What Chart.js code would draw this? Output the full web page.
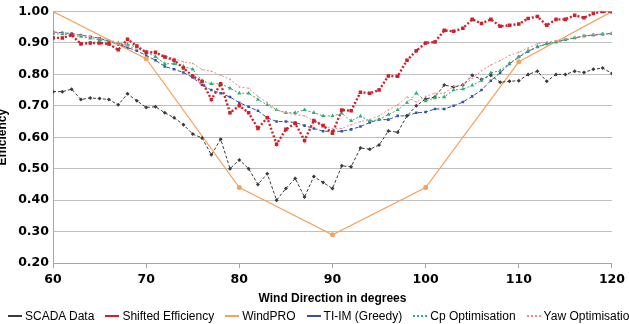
<!DOCTYPE html>
<html>
<head>
<meta charset="utf-8">
<script src="https://cdn.jsdelivr.net/npm/chart.js@4.4.0/dist/chart.umd.min.js"></script>
<style>
  html, body { margin: 0; padding: 0; background: #fff; overflow: hidden; width: 629px; height: 324px; }
  #wrap { position: absolute; left: -5px; top: 0; width: 634px; height: 324px; }
  #legend { position: absolute; left: 8px; top: 309px; white-space: nowrap; font-family: "Liberation Sans", Arial, sans-serif; font-size: 12px; color: #000; display: flex; align-items: center; }
  .item { display: inline-flex; align-items: center; margin-right: 11px; }
  .sw { display: inline-block; width: 14px; height: 0; margin-right: 3px; }
</style>
</head>
<body>
<div id="wrap"><canvas id="c" width="634" height="324"></canvas></div>
<div id="legend"></div>
<script>
const directions = [60,61,62,63,64,65,66,67,68,69,70,71,72,73,74,75,76,77,78,79,80,81,82,83,84,85,86,87,88,89,90,91,92,93,94,95,96,97,98,99,100,101,102,103,104,105,106,107,108,109,110,111,112,113,114,115,116,117,118,119,120];
const scadaData = [0.745,0.745,0.753,0.720,0.725,0.723,0.720,0.703,0.738,0.716,0.695,0.697,0.678,0.662,0.640,0.610,0.598,0.544,0.594,0.500,0.528,0.500,0.450,0.484,0.400,0.437,0.469,0.410,0.475,0.456,0.437,0.509,0.506,0.566,0.562,0.575,0.620,0.616,0.668,0.700,0.722,0.728,0.766,0.760,0.766,0.797,0.784,0.797,0.775,0.778,0.780,0.800,0.810,0.778,0.800,0.800,0.810,0.806,0.816,0.820,0.803];
const shiftedEfficiency = [0.916,0.916,0.925,0.897,0.900,0.900,0.897,0.878,0.912,0.890,0.870,0.870,0.855,0.845,0.820,0.795,0.777,0.720,0.770,0.678,0.700,0.678,0.628,0.662,0.578,0.625,0.644,0.590,0.653,0.637,0.613,0.687,0.684,0.743,0.740,0.750,0.795,0.794,0.845,0.875,0.900,0.903,0.940,0.937,0.947,0.975,0.962,0.975,0.953,0.956,0.960,0.978,0.984,0.956,0.975,0.975,0.988,0.980,0.994,1.000,1.000];
const windproDirections = [60,70,80,90,100,110,120];
const windproValues = [1.00,0.85,0.44,0.29,0.44,0.84,1.00];
const tiimGreedy = [0.935,0.932,0.930,0.925,0.920,0.915,0.905,0.895,0.885,0.875,0.860,0.845,0.825,0.816,0.806,0.790,0.766,0.750,0.740,0.728,0.710,0.697,0.684,0.662,0.650,0.650,0.647,0.637,0.628,0.619,0.619,0.619,0.625,0.634,0.647,0.656,0.656,0.668,0.668,0.678,0.680,0.690,0.690,0.700,0.712,0.730,0.750,0.780,0.805,0.833,0.855,0.873,0.887,0.897,0.903,0.910,0.916,0.922,0.925,0.928,0.930];
const cpOptimisation = [0.930,0.928,0.925,0.920,0.915,0.910,0.905,0.900,0.895,0.887,0.872,0.856,0.834,0.834,0.825,0.816,0.780,0.770,0.770,0.756,0.740,0.740,0.720,0.703,0.687,0.678,0.678,0.687,0.678,0.668,0.668,0.676,0.652,0.667,0.652,0.656,0.672,0.687,0.710,0.740,0.715,0.725,0.728,0.750,0.753,0.765,0.780,0.805,0.812,0.835,0.856,0.875,0.888,0.897,0.903,0.910,0.916,0.922,0.925,0.928,0.930];
const yawOptimisation = [0.935,0.930,0.928,0.925,0.920,0.915,0.910,0.900,0.890,0.880,0.875,0.870,0.860,0.850,0.840,0.835,0.815,0.810,0.797,0.784,0.760,0.756,0.730,0.710,0.687,0.678,0.672,0.668,0.653,0.637,0.628,0.628,0.640,0.650,0.656,0.668,0.687,0.703,0.728,0.712,0.730,0.740,0.740,0.762,0.766,0.787,0.812,0.830,0.844,0.860,0.870,0.884,0.897,0.903,0.907,0.912,0.918,0.922,0.926,0.929,0.932];
const seriesNames = ["SCADA Data", "Shifted Efficiency", "WindPRO", "TI-IM (Greedy)", "Cp  Optimisation", "Yaw  Optimisation"];
const xTitle = "Wind Direction in degrees";
const yTitle = "Efficiency";

const pts = (xs, ys) => xs.map((x, i) => ({ x: x, y: ys[i] }));

const styles = [
  { color: '#3a3a3a', width: 1, dash: [3, 2], pstyle: 'rectRot', r: 2, legendDash: 'solid' },
  { color: '#d0202a', width: 2.4, dash: [2, 2], pstyle: 'rect', r: 2.5, legendDash: 'solid' },
  { color: '#f5a25c', width: 1.2, dash: [], pstyle: 'circle', r: 2.5, legendDash: 'solid' },
  { color: '#34549c', width: 1, dash: [4, 2], pstyle: 'rect', r: 1.8, legendDash: 'solid' },
  { color: '#2fae74', width: 1, dash: [2, 2], pstyle: 'triangle', r: 2.4, legendDash: 'dotted' },
  { color: '#f08a8a', width: 1, dash: [2, 2], pstyle: 'circle', r: 0.8, legendDash: 'dotted' }
];
const seriesData = [
  pts(directions, scadaData),
  pts(directions, shiftedEfficiency),
  pts(windproDirections, windproValues),
  pts(directions, tiimGreedy),
  pts(directions, cpOptimisation),
  pts(directions, yawOptimisation)
];
const drawOrder = [3, 0, 4, 5, 2, 1];

const datasets = seriesNames.map((name, i) => ({
  label: name,
  data: seriesData[i],
  borderColor: styles[i].color,
  backgroundColor: styles[i].color,
  borderWidth: styles[i].width,
  borderDash: styles[i].dash,
  pointStyle: styles[i].pstyle,
  pointRadius: styles[i].r,
  pointBorderWidth: 0,
  pointBackgroundColor: styles[i].color,
  tension: 0,
  fill: false,
  order: drawOrder[i]
}));

const tickFont = { family: '"DejaVu Sans", sans-serif', size: 12.5, weight: 'bold', lineHeight: 1.2 };

new Chart(document.getElementById('c'), {
  type: 'line',
  data: { datasets: datasets },
  options: {
    responsive: false,
    animation: false,
    devicePixelRatio: 1,
    layout: { padding: { top: 7, right: 17, bottom: 14, left: 0 } },
    plugins: { legend: { display: false }, tooltip: { enabled: false } },
    scales: {
      x: {
        type: 'linear', min: 60, max: 120,
        ticks: { stepSize: 10, color: '#000', font: tickFont, padding: 4, maxRotation: 0 },
        grid: { drawOnChartArea: false, drawTicks: true, tickLength: 5, color: '#a6a6a6' },
        border: { display: true, color: '#a6a6a6' },
        title: { display: true, text: xTitle, color: '#000', font: { family: '"Liberation Sans", Arial, sans-serif', size: 12, weight: 'bold' }, padding: { top: 4, bottom: 4 } },
        afterFit: (s) => { s.height = 47; }
      },
      y: {
        min: 0.2, max: 1.0,
        ticks: { stepSize: 0.1, color: '#000', font: tickFont, padding: 4, callback: (v) => Number(v).toFixed(2) },
        grid: { drawTicks: false, color: '#bfbfbf' },
        border: { display: true, color: '#a6a6a6' },
        title: { display: true, text: yTitle, color: '#000', font: { family: '"Liberation Sans", Arial, sans-serif', size: 12, weight: 'bold' }, padding: { top: 0, bottom: 0 } },
        afterFit: (s) => { s.width = 58; }
      }
    }
  }
});

const legend = document.getElementById('legend');
seriesNames.forEach((name, i) => {
  const item = document.createElement('span');
  item.className = 'item';
  const sw = document.createElement('span');
  sw.className = 'sw';
  sw.style.borderTop = (styles[i].legendDash === 'dotted' ? '2px dotted ' : '2px solid ') + styles[i].color;
  const t = document.createElement('span');
  t.textContent = name;
  item.appendChild(sw);
  item.appendChild(t);
  legend.appendChild(item);
});
</script>
</body>
</html>
